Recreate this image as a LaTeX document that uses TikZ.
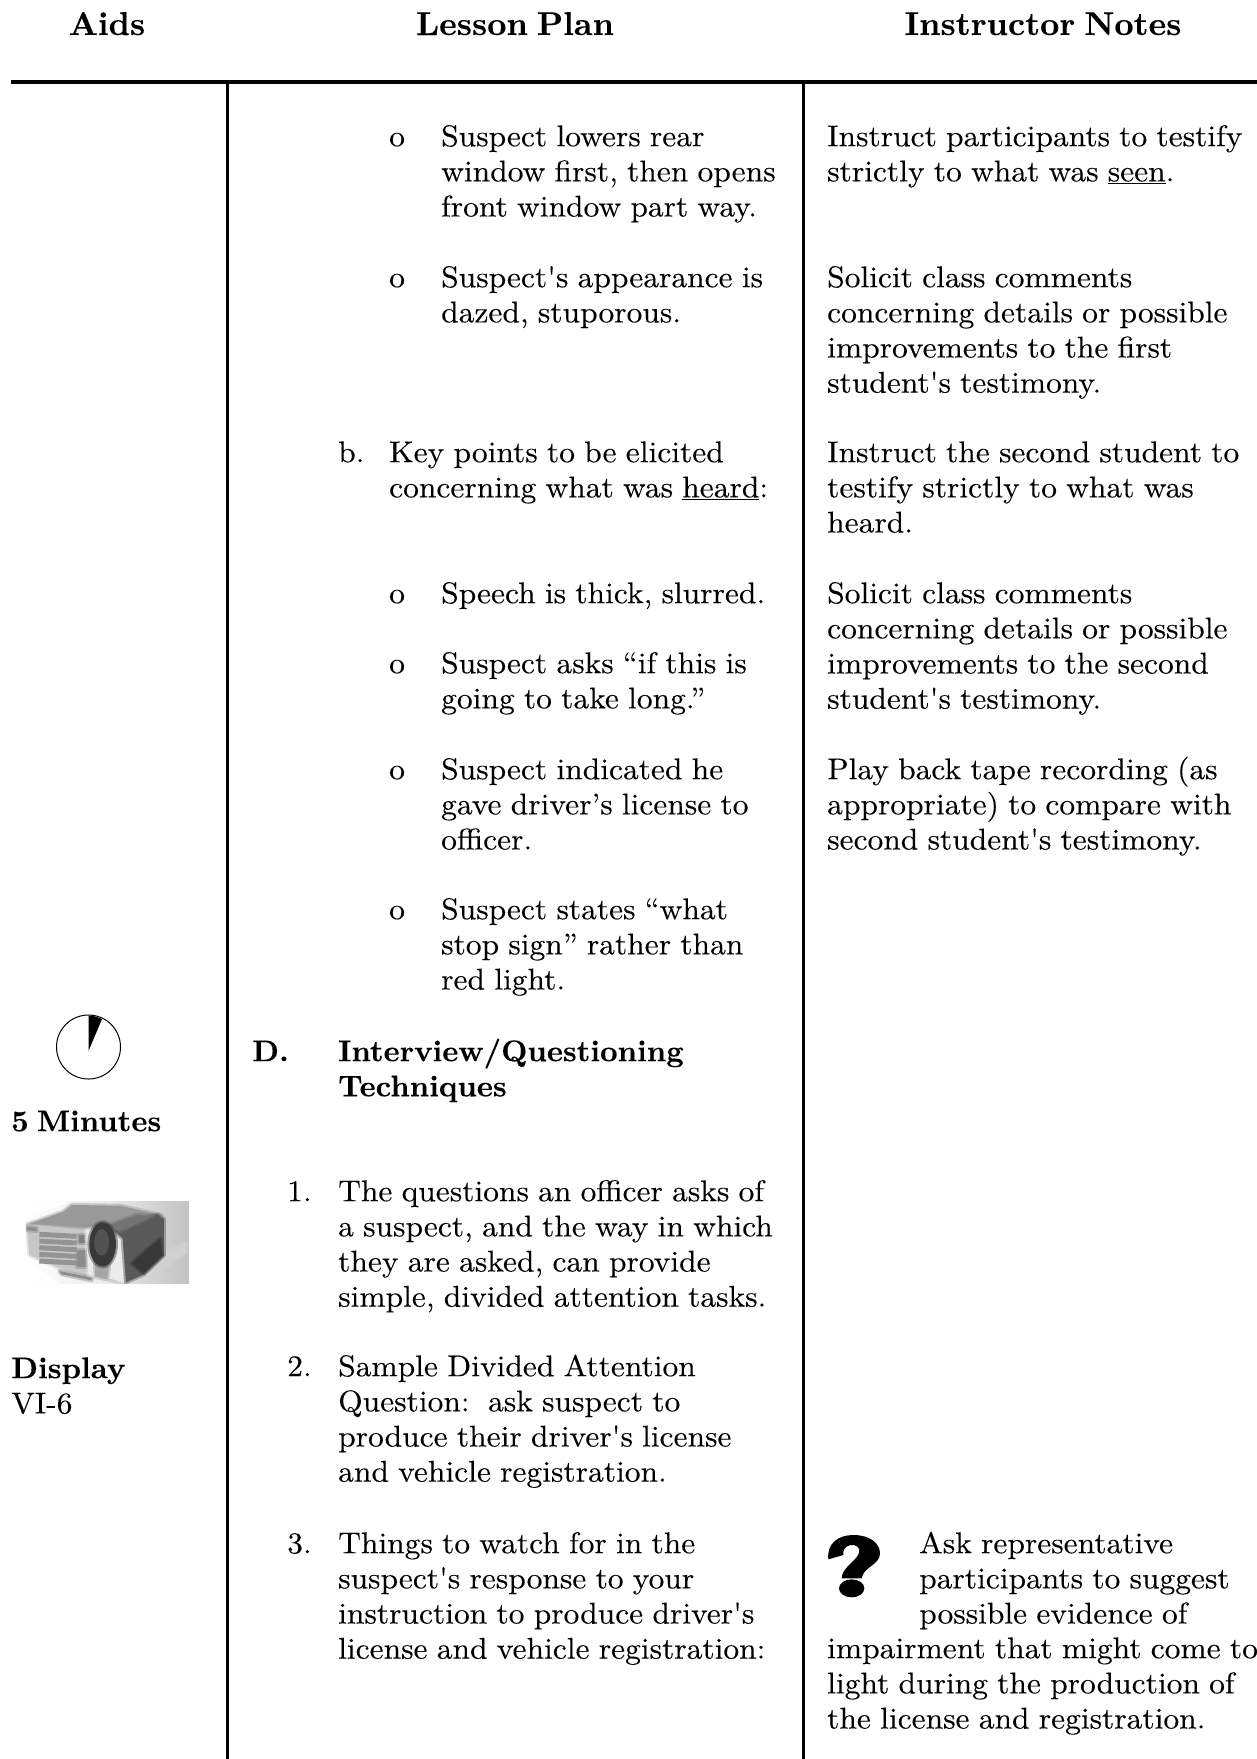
\documentclass[tikz,border=0pt]{standalone}
\usepackage{fontspec}
\setmainfont{lmroman10-regular}[Extension=.otf,Ligatures=TeXOff,BoldFont=lmroman10-bold,FakeStretch=1.05,WordSpace=0.88,FakeBold=0.12,BoldFeatures={FakeStretch=1.015,FakeBold=0.12,WordSpace=0.7}]
\newcommand{\bodyfont}{\fontsize{30}{35.15}\selectfont}
\newcommand{\headfont}{\fontsize{33}{36}\selectfont\bfseries}
\tikzset{
  blk/.style={anchor=north west,inner sep=0pt,align=left,font=\bodyfont},
  head/.style={font=\headfont,inner sep=0pt,anchor=base},
  rulebar/.style={line width=3pt,black},
  soft/.style={fill=#1,draw=#1,draw opacity=.45,line width=4pt,line join=round},
}
\newcommand{\lh}{\rule{0pt}{24pt}}
\newcommand{\blk}[4]{\node[blk] (#1) at (#2,#3-24) {\lh #4};}
\begin{document}
\begin{tikzpicture}[x=1pt,y=-1pt]
\useasboundingbox (0,0) rectangle (1257,1759);
\fill[white] (0,0) rectangle (1257,1759);
\node[head] (h1) at (107,35) {Aids};
\node[head] (h2) at (515,35) {Lesson Plan};
\node[head] (h3) at (1043,35) {Instructor Notes};
\draw[line width=3.5pt] (11,82) -- (1257,82);
\draw[rulebar] (227.5,80) -- (227.5,1759);
\draw[rulebar] (803,80) -- (803,1759);
\blk{a1o}{389}{146}{o}
\blk{a1}{441}{146}{Suspect lowers rear\\window first, then opens\\front window part way.}
\blk{a2o}{389}{287}{o}
\blk{a2}{441}{287}{Suspect's appearance is\\dazed, stuporous.}
\blk{bm}{338}{462}{b.}
\blk{b}{389}{462}{Key points to be elicited\\concerning what was \underline{heard}:}
\blk{c1o}{389}{603}{o}
\blk{c1}{441}{603}{Speech is thick, slurred.}
\blk{c2o}{389}{673}{o}
\blk{c2}{441}{673}{Suspect asks “if this is\\going to take long.”}
\blk{c3o}{389}{779}{o}
\blk{c3}{441}{779}{Suspect indicated he\\gave driver’s license to\\officer.}
\blk{c4o}{389}{919}{o}
\blk{c4}{441}{919}{Suspect states “what\\stop sign” rather than\\red light.}
\blk{dm}{252}{1061}{\textbf{D.}}
\blk{d}{338}{1061}{\textbf{Interview/Questioning}\\\textbf{Techniques}}
\blk{n1}{287}{1201}{1.}
\blk{t1}{338}{1201}{The questions an officer asks of\\a suspect, and the way in which\\they are asked, can provide\\simple, divided attention tasks.}
\blk{n2}{287}{1376}{2.}
\blk{t2}{338}{1376}{Sample Divided Attention\\Question:\ \ ask suspect to\\produce their driver's license\\and vehicle registration.}
\blk{n3}{287}{1553}{3.}
\blk{t3}{338}{1553}{Things to watch for in the\\suspect's response to your\\instruction to produce driver's\\license and vehicle registration:}
\blk{r1}{827}{146}{Instruct participants to testify\\strictly to what was \underline{seen}.}
\blk{r2}{827}{287}{Solicit class comments\\concerning details or possible\\improvements to the first\\student's testimony.}
\blk{r3}{827}{462}{Instruct the second student to\\testify strictly to what was\\heard.}
\blk{r4}{827}{603}{Solicit class comments\\concerning details or possible\\improvements to the second\\student's testimony.}
\blk{r5}{827}{779}{Play back tape recording (as\\appropriate) to compare with\\second student's testimony.}
\blk{r6}{919}{1553}{Ask representative\\participants to suggest\\possible evidence of}
\blk{r7}{827}{1658}{impairment that might come to\\light during the production of\\the license and registration.}
\blk{l1}{11}{1131}{\textbf{5 Minutes}}
\blk{l2}{11}{1378}{\textbf{Display}\\VI-6}
% clock
\draw[line width=1pt] (88.5,1047) circle (32);
\fill (88.5,1051) -- (88.5,1015.5) .. controls (93,1015.5) and (98,1017) .. (102,1019) -- cycle;
% question mark
\begin{scope}[shift={(800,1510)},x=0.3333pt,y=-0.3333pt]
\fill (85,148) .. controls (80,100) and (115,75) .. (160,75) .. controls (210,75) and (240,100) .. (240,130)
 .. controls (240,165) and (190,170) .. (185,205) -- (125,205) .. controls (125,170) and (178,150) .. (178,122)
 .. controls (178,110) and (165,103) .. (152,105) .. controls (135,107) and (128,122) .. (130,135) -- cycle;
\fill (155,235) ellipse [x radius=38,y radius=27];
\end{scope}
% projector (coordinates of a 3x crop)
\begin{scope}[shift={(20,1195)},x=0.3333pt,y=-0.3333pt]
\clip (18,20) rectangle (507,266);
\shade[left color=white,right color=black!24,middle color=black!8] (18,20) rectangle (507,266);
\fill[white] (18,20) -- (150,20) -- (18,70) -- cycle;
\fill[white] (18,190) -- (120,266) -- (18,266) -- cycle;
\draw[soft=black!18] (420,180) -- (500,140) -- (500,170) -- (400,250) -- cycle;
\draw[soft=black!40] (22,88) -- (130,50) -- (155,30) -- (300,32) -- (425,60) -- (300,100) -- (210,105) -- cycle;
\draw[soft=black!22] (20,92) -- (205,104) -- (208,245) -- (120,220) -- (28,180) -- cycle;
\draw[soft=black!45] (20,95) -- (50,98) -- (50,108) -- (20,105) -- cycle;
\foreach \yy in {118,138,158,178,198}
  \draw[black!42,line width=5pt] (58,\yy) -- (170,\yy+6);
\draw[soft=black!50] (178,120) rectangle (195,145);
\draw[soft=black!45] (170,165) rectangle (200,215);
\draw[soft=black!45] (118,228) -- (215,248) -- (215,256) -- (125,238) -- cycle;
\draw[soft=black!35] (215,190) -- (300,190) -- (312,264) -- (225,245) -- cycle;
\draw[soft=black!8] (198,105) -- (222,100) -- (218,240) -- (205,240) -- cycle;
\draw[soft=black!8] (285,140) -- (310,130) -- (312,264) -- (268,250) -- cycle;
\draw[soft=black!65] (280,105) -- (412,58) -- (432,72) -- (432,180) -- (372,238) -- (318,262) -- (308,130) -- cycle;
\draw[soft=black!55] (262,92) -- (350,60) -- (400,62) -- (300,110) -- cycle;
\draw[soft=black!78] (335,205) -- (420,130) -- (428,180) -- (370,235) -- cycle;
\draw[soft=black!78] (248,148) ellipse [x radius=40,y radius=66];
\fill[black!68] (245,142) ellipse [x radius=22,y radius=40];
\end{scope}
\end{tikzpicture}
\end{document}
